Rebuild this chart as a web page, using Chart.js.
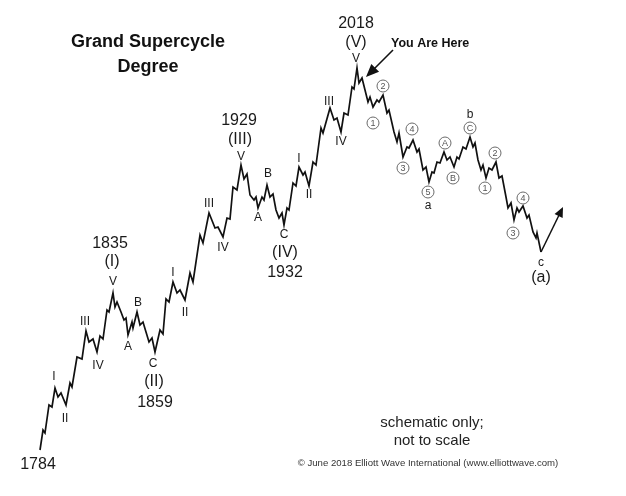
<!DOCTYPE html>
<html><head><meta charset="utf-8">
<script src="https://cdn.jsdelivr.net/npm/chart.js@4/dist/chart.umd.min.js"></script>
<style>html,body{margin:0;padding:0;background:#fff}#wrap{width:626px;height:496px}</style>
</head><body><div id="wrap"><canvas id="c" width="626" height="496"></canvas></div>
<script>
// Schematic wave path: time position (arbitrary units) and price level (arbitrary units)
const waveX = [40,43,45,49,52,55,58,61,66,70,72,77,82,86,89,93,97,100,103,107,109,113,115,117,121,124,126,128,132,133,137,140,143,146,149,152,155,160,163,166,169,173,177,180,185,190,193,200,203,209,215,218,223,227,230,233,237,241,244,247,250,254,256,258,262,264,267,270,273,276,279,282,284,287,289,293,296,299,303,305,309,313,316,321,323,330,334,337,341,344,348,352,354,357,359,362,365,368,370,373,377,379,383,387,389,394,397,399,403,407,409,413,417,419,423,426,429,432,434,437,440,444,447,450,454,457,459,463,466,470,473,475,478,481,483,486,489,492,496,499,502,506,508,511,514,517,519,523,527,529,533,536,537,541];
const waveY = [46,66,63,91,89,108,99,103,91,113,109,139,137,165,154,157,144,160,157,186,184,203,189,194,184,176,178,161,174,168,184,171,174,164,154,158,144,166,162,197,194,214,203,206,196,223,214,261,253,283,268,269,259,278,277,309,306,331,317,322,301,296,299,288,299,296,311,299,302,286,278,283,271,288,286,313,310,329,321,324,310,334,331,368,363,388,376,378,364,383,381,409,407,428,413,418,406,394,399,389,396,394,401,383,386,364,354,363,339,349,348,356,344,347,326,329,314,324,323,334,333,344,336,339,329,339,337,349,347,359,349,353,336,326,331,318,328,326,334,318,320,299,288,293,276,288,284,290,278,281,264,258,263,244];
// Projected move after wave c
const projX = [541,562];
const projY = [244,287];

// Wave labels: text, time position, level, kind
const labelText = ["1784","I","II","III","IV","1835","(I)","V","A","B","C","(II)","1859","I","II","III","IV","1929","(III)","V","A","B","C","(IV)","1932","I","II","III","IV","2018","(V)","V","a","b","c","(a)"];
const labelX    = [38,54,65,85,98,110,112,113,128,138,153,154,155,173,185,209,223,239,240,241,258,268,284,285,285,299,309,329,341,356,356,356,428,470,541,541];
const labelY    = [31,119,77,174,130,252,234,214,149,193,132,114,93,223,183,292,248,375,356,339,278,322,261,243,223,337,301,394,354,472,453,437,290,381,233,218];
const labelKind = ["big","s","s","s","s","big","big","s","s","s","s","big","big","s","s","s","s","big","big","s","s","s","s","big","big","s","s","s","s","big","big","s","s","s","s","big"];

// Circled sub-wave labels
const circText = ["1","2","3","4","5","A","B","C","1","2","3","4"];
const circX    = [373,383,403,412,428,445,453,470,485,495,513,523];
const circY    = [373,410,328,367,304,353,318,368,308,343,263,298];

const labelPlugin = {
  id:'waveLabels',
  afterDatasetsDraw(chart){
    const ctx = chart.ctx, xs = chart.scales.x, ys = chart.scales.y;
    const P = (x,y)=>[xs.getPixelForValue(x), ys.getPixelForValue(y)];
    ctx.save();
    ctx.textAlign='center'; ctx.textBaseline='middle';
    for(let i=0;i<labelText.length;i++){
      const [px,py]=P(labelX[i],labelY[i]);
      ctx.fillStyle='#1a1a1a';
      ctx.font = labelKind[i]==='big' ? '16px "Liberation Sans", Arial, sans-serif' : '12px "Liberation Sans", Arial, sans-serif';
      ctx.fillText(labelText[i],px,py);
    }
    for(let i=0;i<circText.length;i++){
      const [px,py]=P(circX[i],circY[i]);
      ctx.beginPath(); ctx.arc(px,py,6,0,Math.PI*2);
      ctx.strokeStyle='#6a6a6a'; ctx.lineWidth=1; ctx.fillStyle='#fff'; ctx.fill(); ctx.stroke();
      ctx.fillStyle='#555'; ctx.font='9px "Liberation Sans", Arial, sans-serif';
      ctx.fillText(circText[i],px,py+0.5);
    }
    const [ax,ay]=P(projX[0],projY[0]); const [bx,by]=P(projX[1],projY[1]);
    const head=(tx,ty,fx,fy,len,w)=>{
      const a=Math.atan2(ty-fy,tx-fx);
      ctx.beginPath(); ctx.moveTo(tx,ty);
      ctx.lineTo(tx-len*Math.cos(a)+w*Math.sin(a), ty-len*Math.sin(a)-w*Math.cos(a));
      ctx.lineTo(tx-len*Math.cos(a)-w*Math.sin(a), ty-len*Math.sin(a)+w*Math.cos(a));
      ctx.closePath(); ctx.fillStyle='#111'; ctx.fill();
    };
    head(bx+1,by-2,ax,ay,10,4.5);
    const [yx,yy]=P(393,446); const [tx,ty]=P(366,419);
    ctx.beginPath(); ctx.moveTo(yx,yy); ctx.lineTo(tx+6,ty-6); ctx.strokeStyle='#111'; ctx.lineWidth=1.6; ctx.stroke();
    head(tx,ty,yx,yy,13,5.5);
    ctx.fillStyle='#111'; ctx.textAlign='left';
    ctx.font='bold 12.5px "Liberation Sans", Arial, sans-serif';
    ctx.fillText('You Are Here', 391, 44);
    ctx.textAlign='center';
    ctx.font='bold 18px "Liberation Sans", Arial, sans-serif';
    ctx.fillText('Grand Supercycle',148,42);
    ctx.fillText('Degree',148,67);
    ctx.fillStyle='#222';
    ctx.font='15px "Liberation Sans", Arial, sans-serif';
    ctx.fillText('schematic only;',432,423);
    ctx.fillText('not to scale',432,441);
    ctx.font='9.6px "Liberation Sans", Arial, sans-serif';
    ctx.fillStyle='#333';
    ctx.fillText('\u00A9 June 2018 Elliott Wave International (www.elliottwave.com)',428,463);
    ctx.restore();
  }
};

new Chart(document.getElementById('c'),{
  type:'scatter',
  data:{datasets:[
    {data:waveX.map((x,i)=>({x:x,y:waveY[i]})),showLine:true,borderColor:'#111',borderWidth:1.7,pointRadius:0,tension:0,borderJoinStyle:'miter'},
    {data:projX.map((x,i)=>({x:x,y:projY[i]})),showLine:true,borderColor:'#111',borderWidth:1.5,pointRadius:0,tension:0}
  ]},
  options:{
    responsive:false,animation:false,
    layout:{padding:0},
    plugins:{legend:{display:false},tooltip:{enabled:false},title:{display:false}},
    scales:{
      x:{type:'linear',min:0,max:626,display:false},
      y:{type:'linear',min:0,max:496,display:false}
    }
  },
  plugins:[labelPlugin]
});
</script></body></html>
